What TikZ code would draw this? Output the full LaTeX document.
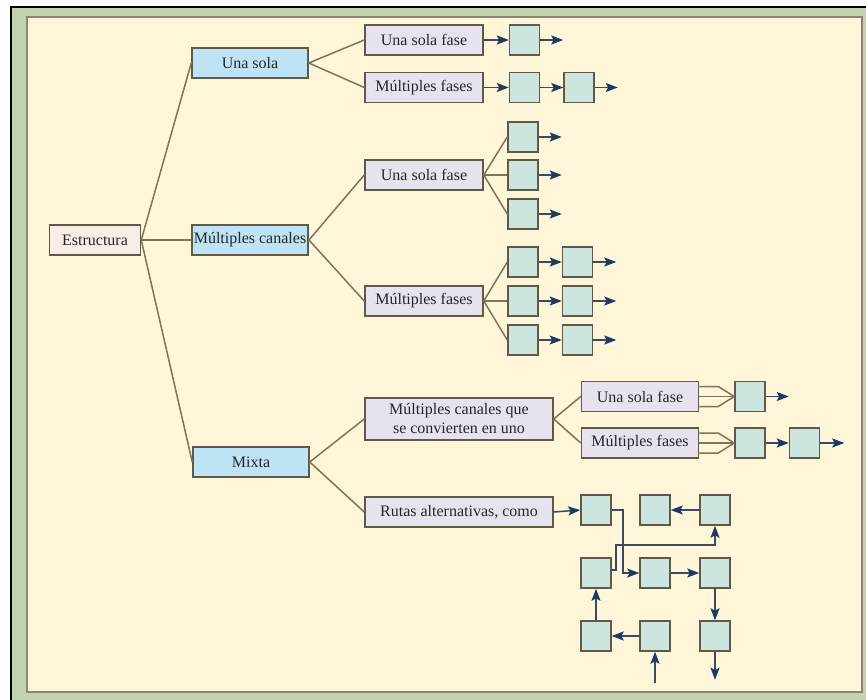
\documentclass[tikz,border=0pt]{standalone}
\usepackage{fontspec}
\setmainfont{Liberation Serif}
\usepackage{xcolor}
\usetikzlibrary{positioning, arrows.meta, calc}

\definecolor{paper}{HTML}{FFF5D8}
\definecolor{framegreen}{HTML}{C3D3AE}
\definecolor{framegray}{HTML}{8A8672}
\definecolor{rootfill}{HTML}{FAEDE4}
\definecolor{bluefill}{HTML}{BEE3F5}
\definecolor{lilac}{HTML}{E7E3EE}
\definecolor{tealfill}{HTML}{CDE5DF}
\definecolor{edgegray}{HTML}{5E5A4A}
\definecolor{linebrown}{HTML}{7D7459}
\definecolor{flowline}{HTML}{3A4A62}
\definecolor{navy}{HTML}{1B3A66}
\definecolor{textdark}{HTML}{26262A}

\begin{document}
\begin{tikzpicture}[x=0.5pt, y=-0.5pt,
    box/.style={rectangle, draw=edgegray, line width=0.75pt, text=textdark, font=\fontsize{8}{9.5}\selectfont, inner xsep=1pt, inner ysep=1pt, minimum height=15pt},
    root/.style={box, fill=rootfill, minimum width=45.5pt},
    level1/.style={box, fill=bluefill, minimum width=58pt},
    level2/.style={box, fill=lilac, minimum width=59pt},
    station/.style={rectangle, draw=edgegray, line width=0.75pt, fill=tealfill, minimum width=15pt, minimum height=15pt, inner sep=0pt},
    branch/.style={draw=linebrown, line width=0.75pt},
    flow/.style={draw=flowline, line width=0.75pt, -{Stealth[length=6pt, width=4.5pt, inset=1.2pt, color=navy]}}]
        \useasboundingbox (0,0) rectangle (866,700);
        % Page frame
        \fill[white] (0,0) rectangle (866,700);
        \fill[framegreen] (12,8) rectangle (866,700);
        \fill[black] (10,6) rectangle (12,700);
        \fill[black] (10,6) rectangle (866,8);
        \filldraw[fill=paper, draw=framegray, line width=0.6pt] (27,17) rectangle (862,692);
        % Tree of structures
        \node[root] (estructura) at (95,240) {Estructura};
        \node[level1] (unasola) at (250,63) {Una sola};
        \node[level1] (multcanales) at (250,240) {Múltiples canales};
        \node[level1] (mixta) at (251,462) {Mixta};
        \node[level2] (usfA) at (424,40) {Una sola fase};
        \node[level2] (mfA) at (424,87.5) {Múltiples fases};
        \node[level2] (usfB) at (424,175) {Una sola fase};
        \node[level2] (mfB) at (424,301) {Múltiples fases};
        \node[level2, minimum width=94pt, minimum height=21pt, align=center] (convierten) at (459,419) {Múltiples canales que\\se convierten en uno};
        \node[level2, minimum width=94pt] (rutas) at (459,512) {Rutas alternativas, como};
        \node[level2, minimum width=58.5pt] (usfC) at (640,396.5) {Una sola fase};
        \node[level2, minimum width=58.5pt] (mfC) at (640,443) {Múltiples fases};
        % Lines of the tree
        \foreach \from/\to in {estructura/unasola, estructura/multcanales, estructura/mixta,
                unasola/usfA, unasola/mfA, multcanales/usfB, multcanales/mfB,
                mixta/convierten, mixta/rutas, convierten/usfC, convierten/mfC}
            \draw[branch] (\from.east) -- (\to.west);
        % Single channel
        \node[station, right=12.5pt of usfA] (a1) {};
        \node[station, right=12.5pt of mfA] (b1) {};
        \node[station, right=11.5pt of b1] (b2) {};
        \draw[flow] (usfA.east) -- (a1.west);
        \draw[flow] (a1.east) -- ++(23,0);
        \draw[flow] (mfA.east) -- (b1.west);
        \draw[flow] (b1.east) -- (b2.west);
        \draw[flow] (b2.east) -- ++(23,0);
        % Multiple channels
        \node[station] (c1) at (523,137) {};
        \node[station] (c2) at (523,175) {};
        \node[station] (c3) at (523,214) {};
        \node[station] (d1) at (523,262) {};
        \node[station] (e1) at (523,301) {};
        \node[station] (f1) at (523,340) {};
        \node[station, right=11.5pt of d1] (d2) {};
        \node[station, right=11.5pt of e1] (e2) {};
        \node[station, right=11.5pt of f1] (f2) {};
        \foreach \s in {c1, c2, c3} {
            \draw[branch] (usfB.east) -- (\s.west);
            \draw[flow] (\s.east) -- ++(23,0);
        }
        \foreach \s/\t in {d1/d2, e1/e2, f1/f2} {
            \draw[branch] (mfB.east) -- (\s.west);
            \draw[flow] (\s.east) -- (\t.west);
            \draw[flow] (\t.east) -- ++(23,0);
        }
        % Channels merging into one
        \node[station, right=17.5pt of usfC] (g1) {};
        \node[station, right=17.5pt of mfC] (h1) {};
        \node[station, right=11.5pt of h1] (h2) {};
        \foreach \src/\dst in {usfC/g1, mfC/h1} {
            \draw[branch] ($(\src.east)+(0,-10)$) -- ++(19,0) -- (\dst.west);
            \draw[branch] (\src.east) -- (\dst.west);
            \draw[branch] ($(\src.east)+(0,10)$) -- ++(19,0) -- (\dst.west);
        }
        \draw[flow] (g1.east) -- ++(23,0);
        \draw[flow] (h1.east) -- (h2.west);
        \draw[flow] (h2.east) -- ++(24,0);
        % Alternative routes
        \node[station] (n11) at (596,510) {};
        \node[station] (n12) at (655,510) {};
        \node[station] (n13) at (715,510) {};
        \node[station] (n21) at (596,573) {};
        \node[station] (n22) at (655,573) {};
        \node[station] (n23) at (715,573) {};
        \node[station] (n31) at (596,636) {};
        \node[station] (n32) at (655,636) {};
        \node[station] (n33) at (715,636) {};
        \coordinate (entrada) at (655,683);
        \draw[flow] (rutas.east) -- (n11.west);
        \draw[flow] (n13.west) -- (n12.east);
        \draw[flow] (n11.east) -- ++(11,0) |- (n22.west);
        \draw[flow] ($(n21.east)+(0,-3)$) -- ++(4,0) -- ++(0,-25) -| (n13.south);
        \draw[flow] (n22.east) -- (n23.west);
        \draw[flow] (n23.south) -- (n33.north);
        \draw[flow] (n33.south) -- ++(0,28);
        \draw[flow] (entrada) -- (n32.south);
        \draw[flow] (n32.west) -- (n31.east);
        \draw[flow] (n31.north) -- (n21.south);
    \end{tikzpicture}
\end{document}
